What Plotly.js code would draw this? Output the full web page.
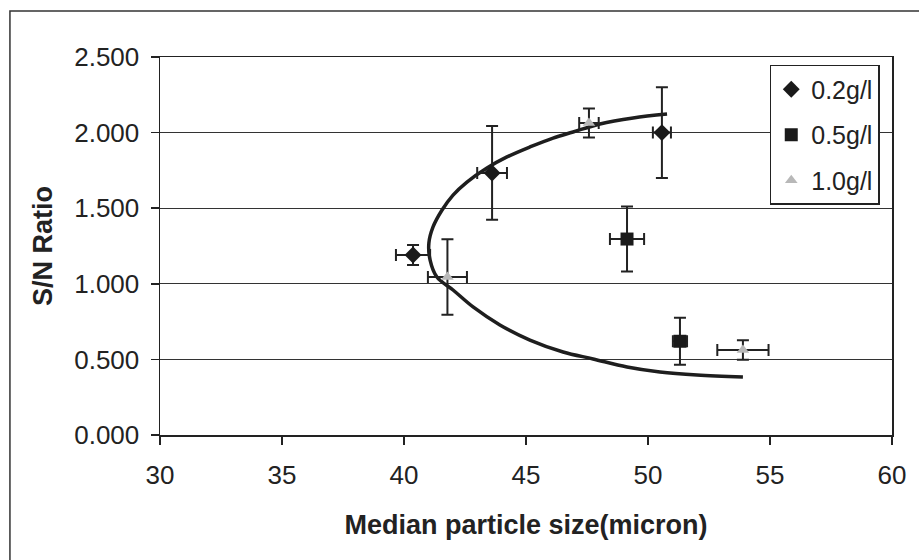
<!DOCTYPE html>
<html>
<head>
<meta charset="utf-8">
<script src="https://cdn.plot.ly/plotly-3.0.1.min.js"></script>
<style>html,body{margin:0;padding:0;background:#fff;}#chart{width:919px;height:560px;}</style>
</head>
<body>
<div id="chart"></div>
<script>
// 0.2 g/l series
const x02 = [40.37, 43.61, 50.57];
const y02 = [1.19, 1.733, 2.0];
const x02err = [0.7, 0.61, 0.37];
const y02err = [0.066, 0.31, 0.30];
// 0.5 g/l series
const x05 = [49.14, 51.31];
const y05 = [1.296, 0.62];
const x05err = [0.7, 0.29];
const y05err = [0.215, 0.155];
// 1.0 g/l series
const x10 = [47.58, 41.78, 53.89];
const y10 = [2.063, 1.045, 0.562];
const x10err = [0.4, 0.8, 1.05];
const y10err = [0.096, 0.25, 0.065];
// trend curve
const curveX = [50.78, 49.39, 48.03, 46.93, 46.11, 45.16, 44.22, 43.40, 42.58, 42.01, 41.56, 41.19, 41.02, 41.07, 41.35, 42.01, 42.83, 43.93, 45.16, 46.52, 47.75, 49.14, 50.49, 52.01, 53.89];
const curveY = [2.123, 2.097, 2.057, 2.004, 1.964, 1.905, 1.839, 1.766, 1.673, 1.587, 1.488, 1.376, 1.270, 1.157, 1.045, 0.959, 0.847, 0.728, 0.628, 0.549, 0.503, 0.450, 0.417, 0.397, 0.384];
// labels
const seriesNames = ['0.2g/l', '0.5g/l', '1.0g/l'];
const xTickVals = [30, 35, 40, 45, 50, 55, 60];
const yTickVals = [0, 0.5, 1.0, 1.5, 2.0, 2.5];
const xTitle = 'Median particle size(micron)';
const yTitle = 'S/N Ratio';

const FONT = 'Liberation Sans, Arial, sans-serif';
const errStyle = {thickness: 2, width: 6, color: '#222'};

function errX(arr){ return Object.assign({type: 'data', array: arr, visible: true}, errStyle); }

const traces = [
  {x: curveX, y: curveY, mode: 'lines', line: {shape: 'spline', smoothing: 1, color: '#1e1e1e', width: 3.5}, showlegend: false, hoverinfo: 'skip'},
  {x: x02, y: y02, name: seriesNames[0], legendgroup: 'a', mode: 'markers', type: 'scatter',
   marker: {symbol: 'diamond', size: 13, color: '#1a1a1a'},
   error_x: errX(x02err), error_y: errX(y02err)},
  {x: x05, y: y05, name: seriesNames[1], legendgroup: 'b', mode: 'markers', type: 'scatter',
   marker: {symbol: 'square', size: 13, color: '#1a1a1a'},
   error_x: errX(x05err), error_y: errX(y05err)},
  {x: x10, y: y10, name: seriesNames[2], legendgroup: 'c', mode: 'markers', type: 'scatter',
   marker: {symbol: 'triangle-up', size: 11, color: '#b8b8b8'},
   error_x: errX(x10err), error_y: errX(y10err)}
];

const layout = {
  width: 919, height: 560,
  margin: {l: 160, r: 27, t: 57, b: 125},
  paper_bgcolor: '#fff', plot_bgcolor: '#fff',
  font: {family: FONT, size: 26, color: '#222'},
  showlegend: true,
  legend: {x: 0.833, xanchor: 'left', y: 0.979, yanchor: 'top',
           bgcolor: '#fff', bordercolor: '#222', borderwidth: 1.5,
           font: {family: FONT, size: 25, color: '#222'},
           itemwidth: 30,
           traceorder: 'grouped', tracegroupgap: 10},
  xaxis: {range: [30, 60], tickvals: xTickVals, ticks: 'outside', ticklen: 8, tickcolor: '#222', tickwidth: 1.5,
          showline: true, linecolor: '#222', linewidth: 1.5, mirror: true, showgrid: false, zeroline: false,
          ticklabelstandoff: 8,
          tickfont: {family: FONT, size: 26, color: '#222'},
          title: {text: xTitle, font: {family: FONT, size: 27, color: '#222', weight: 'bold'}, standoff: 26}},
  yaxis: {range: [0, 2.5], tickvals: yTickVals, tickformat: '.3f', ticks: 'outside', ticklen: 8, tickcolor: '#222', tickwidth: 1.5,
          showline: true, linecolor: '#222', linewidth: 1.5, mirror: true, showgrid: true, gridcolor: '#333', gridwidth: 1,
          zeroline: false, ticklabelstandoff: 6,
          tickfont: {family: FONT, size: 26, color: '#222'},
          title: {text: yTitle, font: {family: FONT, size: 27, color: '#222', weight: 'bold'}, standoff: 14}},
  shapes: [
    {type: 'rect', xref: 'paper', yref: 'paper', x0: -0.205, x1: 1.3, y0: -0.6, y1: 1.1217,
     line: {color: '#333', width: 1.5}, fillcolor: 'rgba(0,0,0,0)', layer: 'below'}
  ]
};

Plotly.newPlot('chart', traces, layout, {displayModeBar: false, staticPlot: true});
</script>
</body>
</html>
